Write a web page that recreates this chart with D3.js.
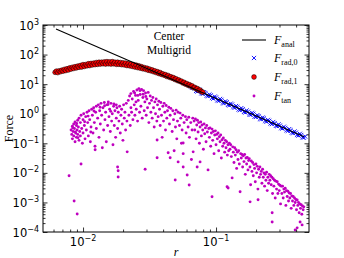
<!DOCTYPE html>
<html>
<head>
<meta charset="utf-8">
<script src="https://cdn.jsdelivr.net/npm/d3@7.9.0/dist/d3.min.js"></script>
<style>
  body { margin: 0; background: #fff; }
  .tick-label { font-family: "DejaVu Sans", sans-serif; font-size: 11.5px; fill: #000; }
  .serif { font-family: "Liberation Serif", "DejaVu Serif", serif; fill: #000; }
</style>
</head>
<body>
<svg id="chart" width="344" height="258"></svg>
<script>
// all points are [log10(r), log10(F)]

// F_anal: straight line in log-log, two end points
const analPts = [[-2.203, 2.865], [-0.338, -0.78]];

// F_rad,0 (blue crosses)
const rad0Pts = [
  [-1.19,0.93],[-1.18,0.88],
  [-1.17,0.89],[-1.15,0.77],[-1.13,0.81],[-1.11,0.69],[-1.09,0.73],[-1.07,0.61],[-1.05,0.65],[-1.03,0.53],
  [-1.01,0.58],[-0.99,0.45],[-0.97,0.50],[-0.95,0.37],[-0.93,0.42],[-0.91,0.30],[-0.89,0.34],[-0.87,0.22],
  [-0.85,0.26],[-0.83,0.14],[-0.81,0.19],[-0.79,0.06],[-0.77,0.11],[-0.75,-0.02],[-0.73,0.03],[-0.71,-0.10],
  [-0.69,-0.05],[-0.67,-0.17],[-0.65,-0.13],[-0.63,-0.25],[-0.61,-0.21],[-0.59,-0.33],[-0.57,-0.28],[-0.55,-0.41],
  [-0.53,-0.36],[-0.51,-0.49],[-0.49,-0.44],[-0.47,-0.56],[-0.45,-0.52],[-0.43,-0.64],[-0.41,-0.60],[-0.39,-0.72],
  [-0.37,-0.68],[-0.35,-0.80],[-0.33,-0.77],
  [-1.16,0.86],[-1.14,0.75],[-1.12,0.78],[-1.10,0.67],[-1.08,0.70],[-1.06,0.59],[-1.04,0.62],[-1.02,0.51],
  [-1.00,0.55],[-0.98,0.43],[-0.96,0.47],[-0.94,0.35],[-0.92,0.39],[-0.90,0.28],[-0.88,0.31],[-0.86,0.20],
  [-0.84,0.23],[-0.82,0.12],[-0.80,0.15],[-0.78,0.04],[-0.76,0.07],[-0.74,-0.04],[-0.72,0.00],[-0.70,-0.11],
  [-0.68,-0.08],[-0.66,-0.19],[-0.64,-0.16],[-0.62,-0.27],[-0.60,-0.24],[-0.58,-0.35],[-0.56,-0.32],[-0.54,-0.42],
  [-0.52,-0.40],[-0.50,-0.50],[-0.48,-0.48],[-0.46,-0.58],[-0.44,-0.56],[-0.42,-0.66],[-0.40,-0.64],[-0.38,-0.74],
  [-0.36,-0.72],[-0.34,-0.81]
];

// F_rad,1 (red circles)
const rad1Pts = [
  [-2.21,1.40],[-2.20,1.44],[-2.19,1.39],[-2.18,1.45],[-2.17,1.42],[-2.16,1.47],[-2.15,1.44],[-2.14,1.50],
  [-2.13,1.46],[-2.12,1.52],[-2.11,1.48],[-2.10,1.55],[-2.09,1.51],[-2.08,1.57],[-2.07,1.53],[-2.06,1.59],
  [-2.05,1.55],[-2.04,1.61],[-2.03,1.57],[-2.02,1.63],[-2.01,1.58],[-2.00,1.66],[-1.99,1.60],[-1.98,1.66],
  [-1.97,1.62],[-1.96,1.69],[-1.95,1.63],[-1.94,1.70],[-1.93,1.65],[-1.92,1.71],[-1.91,1.66],[-1.90,1.73],
  [-1.89,1.67],[-1.88,1.74],[-1.87,1.68],[-1.86,1.74],[-1.85,1.69],[-1.84,1.75],[-1.83,1.68],[-1.82,1.76],
  [-1.81,1.69],[-1.80,1.75],[-1.79,1.68],[-1.78,1.76],[-1.77,1.69],[-1.76,1.74],[-1.75,1.67],[-1.74,1.74],
  [-1.73,1.67],[-1.72,1.73],[-1.71,1.66],[-1.70,1.72],[-1.69,1.65],[-1.68,1.71],[-1.67,1.63],[-1.66,1.69],
  [-1.65,1.62],[-1.64,1.68],[-1.63,1.60],[-1.62,1.66],[-1.61,1.58],[-1.60,1.64],[-1.59,1.56],[-1.58,1.62],
  [-1.57,1.54],[-1.56,1.59],[-1.55,1.52],[-1.54,1.56],[-1.53,1.50],[-1.52,1.54],[-1.51,1.47],[-1.50,1.51],
  [-1.49,1.45],[-1.48,1.48],[-1.47,1.42],[-1.46,1.45],[-1.45,1.39],[-1.44,1.42],[-1.43,1.36],[-1.42,1.39],
  [-1.41,1.33],[-1.40,1.35],[-1.39,1.30],[-1.38,1.32],[-1.37,1.26],[-1.36,1.29],[-1.35,1.23],[-1.34,1.25],
  [-1.33,1.20],[-1.32,1.22],[-1.31,1.16],[-1.30,1.18],[-1.29,1.12],[-1.28,1.14],[-1.27,1.09],[-1.26,1.10],
  [-1.25,1.04],[-1.24,1.06],[-1.23,1.00],[-1.22,1.02],[-1.21,0.96],[-1.20,0.98],[-1.19,0.93],[-1.18,0.94],
  [-1.17,0.88],[-1.16,0.89],[-1.15,0.84],[-1.14,0.85],[-1.13,0.79],[-1.12,0.80],[-1.11,0.75],[-1.10,0.73]
];

// F_tan (magenta dots)
const tanPts = [
  [-2.09,-0.55],[-2.085,-0.70],[-2.08,-0.42],[-2.08,-0.85],[-2.075,-0.60],[-2.07,-0.35],[-2.07,-0.75],[-2.065,-0.50],
  [-2.06,-0.95],[-2.06,-0.28],[-2.055,-0.65],[-2.05,-0.40],[-2.05,-0.80],[-2.045,-0.55],[-2.04,-0.22],[-2.04,-0.70],
  [-2.035,-0.45],[-2.03,-0.90],[-2.03,-0.15],[-2.025,-0.60],[-2.078,-0.48],[-2.058,-0.62],[-2.048,-0.33],[-2.038,-0.81],
  [-2.02,-0.30],[-2.02,-0.75],[-2.015,-0.05],[-2.01,-0.50],[-2.005,-1.00],[-2.0,-0.20],[-2.0,-0.65],[-1.995,0.00],
  [-1.99,-0.40],[-1.985,-0.85],[-1.98,-0.10],[-1.975,-0.55],[-1.97,0.05],[-1.965,-0.30],[-1.96,-0.75],[-1.955,0.10],
  [-1.95,-0.20],[-1.945,-0.95],[-1.94,-0.45],[-1.935,0.15],[-1.93,-0.05],[-1.925,-0.65],[-1.92,0.20],[-1.915,-0.30],
  [-1.91,-1.10],[-1.905,0.05],[-1.90,-0.50],[-1.90,0.25],[-1.988,-0.27],[-1.962,-0.08],[-1.942,-0.62],[-1.918,0.09],
  [-1.89,-0.15],[-1.885,0.30],[-1.88,-0.80],[-1.875,0.10],[-1.87,-0.35],[-1.865,0.35],[-1.86,-0.05],[-1.855,-1.15],
  [-1.85,0.20],[-1.845,-0.55],[-1.84,0.38],[-1.835,-0.20],[-1.83,0.05],[-1.825,-0.95],[-1.82,0.30],[-1.815,-0.40],
  [-1.81,0.40],[-1.805,-0.10],[-1.80,0.15],[-1.795,-0.60],[-1.79,0.35],[-1.785,-0.25],[-1.78,0.00],[-1.775,-1.05],
  [-1.77,0.25],[-1.765,-0.40],[-1.76,0.10],[-1.755,-0.80],[-1.75,0.30],[-1.75,-0.15],[-1.872,0.22],[-1.838,0.27],
  [-1.812,0.31],[-1.792,0.08],[-1.768,0.33],
  [-1.745,0.20],[-1.74,-0.50],[-1.735,0.05],[-1.74,-1.80],[-1.73,-0.25],[-1.725,0.25],[-1.72,-0.65],[-1.736,-1.93],
  [-1.715,-0.05],[-1.736,-2.14],[-1.71,0.15],[-1.705,-0.35],[-1.70,-0.90],[-1.695,0.30],[-1.69,-0.15],[-1.685,0.05],
  [-1.68,-0.55],[-1.675,0.35],[-1.67,-0.25],[-1.668,-1.29],[-1.66,0.45],[-1.655,-0.05],[-1.65,0.60],[-1.645,-0.40],
  [-1.64,0.20],[-1.64,0.68],
  [-1.635,0.05],[-1.63,0.50],[-1.625,-0.20],[-1.62,0.75],[-1.615,0.30],[-1.61,-0.05],[-1.605,0.62],[-1.60,0.15],
  [-1.595,0.80],[-1.59,-0.25],[-1.585,0.45],[-1.58,0.85],[-1.575,0.05],[-1.57,0.65],[-1.565,0.25],[-1.56,0.82],
  [-1.555,-0.15],[-1.55,0.55],[-1.545,0.78],[-1.54,0.10],[-1.535,0.40],[-1.533,-1.88],[-1.53,0.70],[-1.525,-0.05],
  [-1.52,0.50],[-1.515,0.20],[-1.51,0.72],[-1.505,-0.30],[-1.50,0.35],[-1.495,0.60],[-1.49,0.05],[-1.485,0.45],
  [-1.48,-0.15],[-1.475,0.55],[-1.47,0.20],[-1.465,-0.45],[-1.46,0.40],[-1.455,0.00],[-1.45,0.50],[-1.445,-0.25],
  [-1.443,-1.49],[-1.44,0.30],[-1.435,-0.10],[-1.43,0.42],[-1.612,0.70],[-1.588,0.62],[-1.572,0.78],[-1.548,0.66],
  [-1.528,0.58],[-1.602,0.40],
  [-1.425,0.15],[-1.42,-0.40],[-1.415,0.38],[-1.41,-0.05],[-1.405,-0.80],[-1.40,0.25],[-1.395,-0.25],[-1.39,0.35],
  [-1.385,0.05],[-1.38,-0.55],[-1.375,0.28],[-1.37,-0.15],[-1.365,0.10],[-1.36,-1.32],[-1.355,0.22],[-1.35,-0.35],
  [-1.345,-0.05],[-1.34,0.18],[-1.345,-1.49],[-1.33,-0.60],[-1.325,0.10],[-1.32,-0.20],[-1.315,-1.25],[-1.31,0.00],
  [-1.305,-0.45],[-1.30,0.12],[-1.295,-0.85],[-1.29,-0.25],[-1.285,0.05],[-1.285,-1.63],[-1.275,-0.40],[-1.27,0.02],
  [-1.265,-0.15],[-1.26,-1.00],[-1.255,-0.55],[-1.25,-0.05],[-1.307,-2.24],[-1.24,-0.30],[-1.247,-1.35],[-1.23,-0.10],
  [-1.225,-0.65],[-1.22,-0.20],[-1.217,-2.07],[-1.21,-0.45],[-1.205,-0.12],[-1.20,-0.80],[-1.202,-2.41],[-1.19,-0.30],
  [-1.185,-1.55],[-1.18,-0.55],[-1.175,-0.15],[-1.172,-1.29],
  [-2.105,-2.10],[-2.015,-1.70],[-2.067,-2.95],[-2.044,-3.39],[-1.909,-1.22],[-1.443,-0.89],[-1.247,-0.99],[-1.247,-1.80],
  [-1.165,-0.25],[-1.16,-0.55],[-1.155,-0.18],[-1.15,-0.85],[-1.145,-0.38],[-1.142,-1.80],[-1.14,-0.22],[-1.135,-0.62],
  [-1.13,-0.30],[-1.125,-1.00],[-1.12,-0.45],[-1.12,-1.63],[-1.115,-0.28],[-1.11,-0.75],[-1.105,-0.38],[-1.10,-0.55],
  [-1.095,-1.20],[-1.09,-0.35],[-1.085,-0.68],[-1.08,-0.48],[-1.075,-0.95],[-1.07,-0.40],[-1.065,-0.62],[-1.06,-1.90],
  [-1.055,-0.50],[-1.05,-0.80],[-1.045,-0.48],[-1.04,-1.10],[-1.035,-0.65],[-1.03,-2.81],[-1.03,-0.52],[-1.025,-0.90],
  [-1.02,-0.60],[-1.015,-1.35],[-1.01,-0.72],[-1.005,-0.58],[-1.00,-1.05],[-0.995,-0.70],[-0.99,-0.85],[-0.985,-0.65],
  [-0.98,-1.25],[-0.975,-0.78],[-0.97,-0.95],[-0.965,-0.72],[-0.96,-1.50],[-0.955,-0.88],[-0.95,-1.10],[-0.945,-0.82],
  [-0.94,-1.00],[-0.935,-1.30],[-0.93,-0.90],[-0.925,-1.15],[-0.92,-0.95],[-0.917,-2.47],[-0.915,-1.40],[-0.91,-1.05],
  [-0.909,-2.51],[-0.905,-1.25],[-0.90,-1.00],
  [-0.895,-1.20],[-0.89,-1.05],[-0.885,-1.45],[-0.879,-2.17],[-0.875,-1.12],[-0.87,-1.30],[-0.865,-1.65],[-0.86,-1.15],
  [-0.855,-1.40],[-0.85,-1.22],[-0.845,-1.85],[-0.84,-1.30],[-0.835,-1.55],[-0.83,-1.25],[-0.825,-1.70],[-0.819,-2.64],
  [-0.815,-1.35],[-0.81,-1.50],[-0.805,-1.38],[-0.80,-1.80],[-0.795,-1.42],[-0.79,-1.62],[-0.785,-1.38],[-0.78,-2.05],
  [-0.775,-1.50],[-0.77,-1.70],[-0.765,-1.48],[-0.76,-1.90],[-0.755,-1.58],[-0.75,-1.52],[-0.745,-1.80],[-0.744,-2.98],
  [-0.74,-2.40],[-0.735,-1.60],[-0.73,-1.95],[-0.725,-1.65],[-0.72,-2.10],[-0.715,-1.72],[-0.71,-1.85],[-0.705,-2.30],
  [-0.70,-1.70],[-0.695,-2.00],[-0.69,-1.78],[-0.685,-2.55],[-0.684,-2.91],[-0.68,-1.88],[-0.675,-2.15],[-0.67,-1.80],
  [-0.665,-2.05],[-0.66,-1.95],[-0.655,-2.35],[-0.65,-1.88],[-0.645,-2.15],[-0.64,-2.00],[-0.635,-2.45],[-0.63,-2.05],
  [-0.625,-2.25],[-0.62,-1.98],[-0.615,-2.60],[-0.61,-2.15],[-0.605,-2.35],[-0.60,-2.05],[-0.595,-2.25],
  [-0.59,-2.10],[-0.585,-2.40],[-0.58,-2.15],[-0.578,-3.35],[-0.578,-3.66],[-0.575,-2.70],[-0.57,-2.20],[-0.565,-2.45],
  [-0.56,-2.25],[-0.555,-2.85],[-0.55,-2.28],[-0.545,-2.55],[-0.54,-2.30],[-0.535,-2.70],[-0.53,-2.38],[-0.525,-2.60],
  [-0.52,-2.42],[-0.515,-3.05],[-0.51,-2.45],[-0.505,-2.70],[-0.50,-2.45],[-0.495,-2.85],[-0.49,-2.55],[-0.485,-2.65],
  [-0.48,-2.52],[-0.475,-3.10],[-0.47,-2.60],[-0.465,-2.80],[-0.46,-2.62],[-0.455,-2.95],[-0.45,-2.68],[-0.445,-2.85],
  [-0.44,-2.70],[-0.435,-3.20],[-0.43,-2.78],[-0.425,-2.95],[-0.42,-2.80],[-0.415,-3.10],[-0.41,-2.85],[-0.405,-3.93],
  [-0.405,-3.00],[-0.40,-2.90],[-0.395,-3.25],[-0.39,-3.86],[-0.39,-2.92],[-0.385,-3.10],[-0.38,-3.00],[-0.375,-3.35],
  [-0.37,-3.05],[-0.368,-3.66],[-0.365,-3.20],[-0.36,-3.08],[-0.355,-3.40],[-0.353,-3.76],[-0.35,-3.12],[-0.345,-3.25],
  [-0.34,-3.15]
];

const xTickVals = [1e-2, 1e-1];
const xTickExp = ["\u22122", "\u22121"];
const yTickVals = [1e3, 1e2, 1e1, 1e0, 1e-1, 1e-2, 1e-3, 1e-4];
const yTickExp = ["3", "2", "1", "0", "\u22121", "\u22122", "\u22123", "\u22124"];

const legendItems = [
  { key: "line", sub: "anal" },
  { key: "rad0", sub: "rad,0" },
  { key: "rad1", sub: "rad,1" },
  { key: "tan",  sub: "tan" }
];

const svg = d3.select("#chart");
const L = 43, R = 309, T = 25, B = 232;

const x = d3.scaleLog().domain([0.005, 0.5]).range([L, R]);
const y = d3.scaleLog().domain([1e-4, 1e3]).range([B, T]);
const px = d => x(10 ** d[0]);
const py = d => y(10 ** d[1]);

svg.append("defs").append("clipPath").attr("id", "clip")
  .append("rect").attr("x", L).attr("y", T).attr("width", R - L).attr("height", B - T);

const plot = svg.append("g").attr("clip-path", "url(#clip)");

// blue crosses
const cross = 2.1;
const crossPath = (cx, cy) => `M${cx-cross},${cy-cross}L${cx+cross},${cy+cross}M${cx-cross},${cy+cross}L${cx+cross},${cy-cross}`;
plot.append("g").selectAll("path").data(rad0Pts).join("path")
  .attr("d", d => crossPath(px(d), py(d)))
  .attr("stroke", "#0000ff").attr("stroke-width", 0.9).attr("fill", "none");

// red circles
plot.append("g").selectAll("circle").data(rad1Pts).join("circle")
  .attr("cx", px).attr("cy", py).attr("r", 2.4)
  .attr("fill", "#ff0000").attr("stroke", "#000").attr("stroke-width", 0.5);

// magenta dots
plot.append("g").selectAll("circle").data(tanPts).join("circle")
  .attr("cx", px).attr("cy", py).attr("r", 1.45)
  .attr("fill", "#bf00bf");

// analytic line
plot.append("path").datum(analPts)
  .attr("d", d3.line().x(px).y(py))
  .attr("stroke", "#000").attr("stroke-width", 1.1).attr("fill", "none");

// ticks on all four sides, pointing in
const minorX = [];
[0.001, 0.01, 0.1].forEach(dec => { for (let k = 2; k <= 9; k++) { const v = k * dec; if (v > 0.005 && v < 0.5) minorX.push(v); } });
const minorY = [];
[1e-4, 1e-3, 1e-2, 1e-1, 1, 10, 100].forEach(dec => { for (let k = 2; k <= 9; k++) minorY.push(k * dec); });

function addAxis(axisFn, scale, vals, size, tx, ty) {
  const g = svg.append("g").attr("transform", `translate(${tx},${ty})`)
    .call(axisFn(scale).tickValues(vals).tickSize(-size).tickFormat(""));
  g.select(".domain").remove();
  g.selectAll("line").attr("stroke", "#000").attr("stroke-width", 0.8);
}
addAxis(d3.axisBottom, x, xTickVals, 4.5, 0, B);
addAxis(d3.axisBottom, x, minorX, 2.5, 0, B);
addAxis(d3.axisTop, x, xTickVals, 4.5, 0, T);
addAxis(d3.axisTop, x, minorX, 2.5, 0, T);
addAxis(d3.axisLeft, y, yTickVals, 4.5, L, 0);
addAxis(d3.axisLeft, y, minorY, 2.5, L, 0);
addAxis(d3.axisRight, y, yTickVals, 4.5, R, 0);
addAxis(d3.axisRight, y, minorY, 2.5, R, 0);

svg.append("rect").attr("x", L).attr("y", T).attr("width", R - L).attr("height", B - T)
  .attr("fill", "none").attr("stroke", "#000").attr("stroke-width", 1);

// tick labels
yTickVals.forEach((v, i) => {
  const t = svg.append("text").attr("class", "tick-label")
    .attr("x", L - 4).attr("y", y(v) + 4.5).attr("text-anchor", "end");
  t.append("tspan").text("10");
  t.append("tspan").attr("dy", -5).attr("font-size", 8).text(yTickExp[i]);
});
xTickVals.forEach((v, i) => {
  const t = svg.append("text").attr("class", "tick-label")
    .attr("x", x(v)).attr("y", 246).attr("text-anchor", "middle");
  t.append("tspan").text("10");
  t.append("tspan").attr("dy", -5).attr("font-size", 8).text(xTickExp[i]);
});

// axis titles
svg.append("text").attr("class", "serif").attr("font-size", 12).attr("font-style", "italic")
  .attr("x", (L + R) / 2).attr("y", 256).attr("text-anchor", "middle").text("r");
svg.append("text").attr("class", "serif").attr("font-size", 12)
  .attr("transform", `translate(13,${(T + B) / 2}) rotate(-90)`).attr("text-anchor", "middle").text("Force");

// annotation
svg.append("text").attr("class", "serif").attr("font-size", 11.5)
  .attr("x", 169).attr("y", 40).attr("text-anchor", "middle").text("Center");
svg.append("text").attr("class", "serif").attr("font-size", 11.5)
  .attr("x", 169).attr("y", 54).attr("text-anchor", "middle").text("Multigrid");

// legend
const legRows = [40, 58, 77, 96];
const lx = 254;
legendItems.forEach((item, i) => {
  const yy = legRows[i];
  const g = svg.append("g");
  if (item.key === "line") {
    g.append("line").attr("x1", lx - 12).attr("x2", lx + 12).attr("y1", yy).attr("y2", yy)
      .attr("stroke", "#000").attr("stroke-width", 1.1);
  } else if (item.key === "rad0") {
    g.append("path").attr("d", crossPath(lx, yy))
      .attr("stroke", "#0000ff").attr("stroke-width", 0.9);
  } else if (item.key === "rad1") {
    g.append("circle").attr("cx", lx).attr("cy", yy).attr("r", 2.4)
      .attr("fill", "#ff0000").attr("stroke", "#000").attr("stroke-width", 0.5);
  } else {
    g.append("circle").attr("cx", lx).attr("cy", yy).attr("r", 1.45).attr("fill", "#bf00bf");
  }
  const t = g.append("text").attr("class", "serif").attr("font-size", 12)
    .attr("x", 274).attr("y", yy + 4);
  t.append("tspan").attr("font-style", "italic").text("F");
  t.append("tspan").attr("font-size", 8).attr("dy", 3).text(item.sub);
});
</script>
</body>
</html>
